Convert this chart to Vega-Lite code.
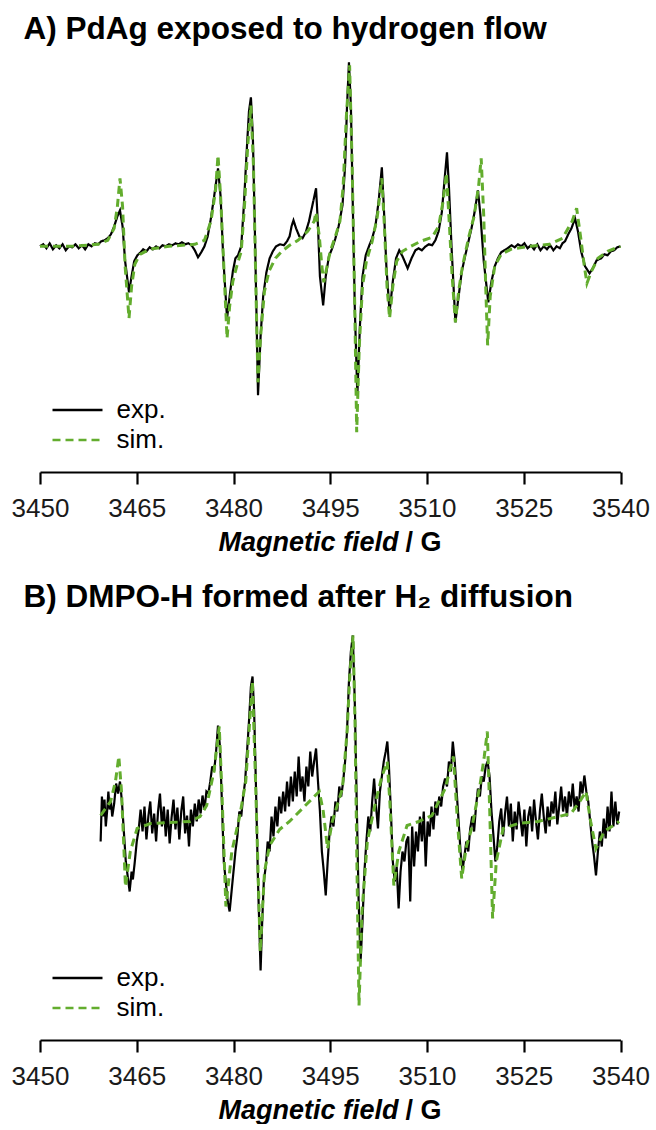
{
"$schema": "https://vega.github.io/schema/vega-lite/v6.json",
"background": "white",
"padding": {"left": 11, "top": 13, "right": 0, "bottom": 0},
"config": {"view": {"stroke": null}, "font": "Liberation Sans", "concat": {"spacing": 25}},
"resolve": {"scale": {"color": "independent", "strokeDash": "independent"}, "legend": {"color": "independent", "strokeDash": "independent"}},
"datasets": {
"aexp": [
{"B":3450.0,"I":0,"s":"exp."},{"B":3450.5,"I":2,"s":"exp."},{"B":3451.0,"I":-2,"s":"exp."},{"B":3451.5,"I":3,"s":"exp."},{"B":3452.0,"I":-3,"s":"exp."},{"B":3452.5,"I":1,"s":"exp."},{"B":3453.0,"I":-2,"s":"exp."},{"B":3453.5,"I":2,"s":"exp."},{"B":3454.0,"I":-4,"s":"exp."},{"B":3454.5,"I":0,"s":"exp."},{"B":3455.0,"I":-1,"s":"exp."},{"B":3455.5,"I":2,"s":"exp."},{"B":3456.0,"I":-2,"s":"exp."},{"B":3456.5,"I":1,"s":"exp."},{"B":3457.0,"I":-3,"s":"exp."},{"B":3457.5,"I":2,"s":"exp."},{"B":3458.0,"I":0,"s":"exp."},{"B":3458.5,"I":3,"s":"exp."},{"B":3459.0,"I":2,"s":"exp."},{"B":3459.5,"I":5,"s":"exp."},{"B":3460.0,"I":6,"s":"exp."},{"B":3460.5,"I":8,"s":"exp."},{"B":3461.0,"I":12,"s":"exp."},{"B":3461.5,"I":20,"s":"exp."},{"B":3462.0,"I":30,"s":"exp."},{"B":3462.4,"I":36,"s":"exp."},{"B":3462.8,"I":20,"s":"exp."},{"B":3463.2,"I":-15,"s":"exp."},{"B":3463.8,"I":-46,"s":"exp."},{"B":3464.2,"I":-30,"s":"exp."},{"B":3464.6,"I":-15,"s":"exp."},{"B":3465.1,"I":-9,"s":"exp."},{"B":3465.6,"I":-6,"s":"exp."},{"B":3466.0,"I":-3,"s":"exp."},{"B":3466.5,"I":-5,"s":"exp."},{"B":3467.0,"I":-1,"s":"exp."},{"B":3467.5,"I":-3,"s":"exp."},{"B":3468.0,"I":0,"s":"exp."},{"B":3468.5,"I":-2,"s":"exp."},{"B":3469.0,"I":1,"s":"exp."},{"B":3469.5,"I":0,"s":"exp."},{"B":3470.0,"I":2,"s":"exp."},{"B":3470.5,"I":1,"s":"exp."},{"B":3471.0,"I":3,"s":"exp."},{"B":3471.5,"I":2,"s":"exp."},{"B":3472.0,"I":4,"s":"exp."},{"B":3472.5,"I":2,"s":"exp."},{"B":3473.0,"I":3,"s":"exp."},{"B":3473.5,"I":1,"s":"exp."},{"B":3474.0,"I":-4,"s":"exp."},{"B":3474.5,"I":-11,"s":"exp."},{"B":3475.0,"I":-6,"s":"exp."},{"B":3475.5,"I":0,"s":"exp."},{"B":3476.0,"I":10,"s":"exp."},{"B":3476.5,"I":28,"s":"exp."},{"B":3477.0,"I":50,"s":"exp."},{"B":3477.6,"I":78,"s":"exp."},{"B":3478.0,"I":50,"s":"exp."},{"B":3478.4,"I":-10,"s":"exp."},{"B":3479.0,"I":-72,"s":"exp."},{"B":3479.4,"I":-50,"s":"exp."},{"B":3479.9,"I":-25,"s":"exp."},{"B":3480.3,"I":-12,"s":"exp."},{"B":3480.7,"I":-9,"s":"exp."},{"B":3481.2,"I":0,"s":"exp."},{"B":3481.6,"I":40,"s":"exp."},{"B":3482.0,"I":90,"s":"exp."},{"B":3482.4,"I":135,"s":"exp."},{"B":3482.7,"I":149,"s":"exp."},{"B":3483.0,"I":110,"s":"exp."},{"B":3483.3,"I":20,"s":"exp."},{"B":3483.6,"I":-80,"s":"exp."},{"B":3483.8,"I":-149,"s":"exp."},{"B":3484.2,"I":-90,"s":"exp."},{"B":3484.6,"I":-50,"s":"exp."},{"B":3485.1,"I":-26,"s":"exp."},{"B":3485.6,"I":-12,"s":"exp."},{"B":3486.1,"I":-5,"s":"exp."},{"B":3486.6,"I":0,"s":"exp."},{"B":3487.2,"I":2,"s":"exp."},{"B":3487.8,"I":1,"s":"exp."},{"B":3488.3,"I":5,"s":"exp."},{"B":3488.7,"I":10,"s":"exp."},{"B":3489.0,"I":20,"s":"exp."},{"B":3489.3,"I":26,"s":"exp."},{"B":3489.7,"I":18,"s":"exp."},{"B":3490.2,"I":10,"s":"exp."},{"B":3490.7,"I":8,"s":"exp."},{"B":3491.2,"I":14,"s":"exp."},{"B":3491.7,"I":25,"s":"exp."},{"B":3492.2,"I":40,"s":"exp."},{"B":3492.8,"I":58,"s":"exp."},{"B":3493.1,"I":20,"s":"exp."},{"B":3493.4,"I":-30,"s":"exp."},{"B":3493.9,"I":-59,"s":"exp."},{"B":3494.3,"I":-30,"s":"exp."},{"B":3494.8,"I":-10,"s":"exp."},{"B":3495.3,"I":-2,"s":"exp."},{"B":3495.8,"I":8,"s":"exp."},{"B":3496.3,"I":20,"s":"exp."},{"B":3496.9,"I":41,"s":"exp."},{"B":3497.3,"I":80,"s":"exp."},{"B":3497.6,"I":140,"s":"exp."},{"B":3497.9,"I":184,"s":"exp."},{"B":3498.2,"I":140,"s":"exp."},{"B":3498.5,"I":40,"s":"exp."},{"B":3498.8,"I":-60,"s":"exp."},{"B":3499.2,"I":-149,"s":"exp."},{"B":3499.6,"I":-80,"s":"exp."},{"B":3500.0,"I":-30,"s":"exp."},{"B":3500.5,"I":-9,"s":"exp."},{"B":3501.0,"I":0,"s":"exp."},{"B":3501.5,"I":8,"s":"exp."},{"B":3502.0,"I":20,"s":"exp."},{"B":3502.5,"I":45,"s":"exp."},{"B":3503.0,"I":79,"s":"exp."},{"B":3503.3,"I":40,"s":"exp."},{"B":3503.7,"I":-20,"s":"exp."},{"B":3504.2,"I":-66,"s":"exp."},{"B":3504.7,"I":-35,"s":"exp."},{"B":3505.2,"I":-12,"s":"exp."},{"B":3505.7,"I":-4,"s":"exp."},{"B":3506.2,"I":-10,"s":"exp."},{"B":3507.0,"I":-22,"s":"exp."},{"B":3507.6,"I":-12,"s":"exp."},{"B":3508.2,"I":-4,"s":"exp."},{"B":3508.7,"I":-2,"s":"exp."},{"B":3509.2,"I":-4,"s":"exp."},{"B":3509.8,"I":0,"s":"exp."},{"B":3510.3,"I":2,"s":"exp."},{"B":3510.8,"I":1,"s":"exp."},{"B":3511.3,"I":6,"s":"exp."},{"B":3511.8,"I":15,"s":"exp."},{"B":3512.3,"I":34,"s":"exp."},{"B":3512.7,"I":65,"s":"exp."},{"B":3513.1,"I":94,"s":"exp."},{"B":3513.4,"I":60,"s":"exp."},{"B":3513.8,"I":0,"s":"exp."},{"B":3514.4,"I":-76,"s":"exp."},{"B":3514.9,"I":-50,"s":"exp."},{"B":3515.4,"I":-25,"s":"exp."},{"B":3515.9,"I":-10,"s":"exp."},{"B":3516.4,"I":4,"s":"exp."},{"B":3516.9,"I":18,"s":"exp."},{"B":3517.4,"I":35,"s":"exp."},{"B":3517.9,"I":56,"s":"exp."},{"B":3518.3,"I":30,"s":"exp."},{"B":3518.8,"I":-15,"s":"exp."},{"B":3519.5,"I":-56,"s":"exp."},{"B":3520.0,"I":-35,"s":"exp."},{"B":3520.5,"I":-20,"s":"exp."},{"B":3521.0,"I":-12,"s":"exp."},{"B":3521.5,"I":-6,"s":"exp."},{"B":3522.0,"I":-4,"s":"exp."},{"B":3522.5,"I":-2,"s":"exp."},{"B":3523.1,"I":1,"s":"exp."},{"B":3523.6,"I":-1,"s":"exp."},{"B":3524.1,"I":2,"s":"exp."},{"B":3524.6,"I":0,"s":"exp."},{"B":3525.1,"I":3,"s":"exp."},{"B":3525.6,"I":-2,"s":"exp."},{"B":3526.1,"I":1,"s":"exp."},{"B":3526.6,"I":-3,"s":"exp."},{"B":3527.1,"I":2,"s":"exp."},{"B":3527.6,"I":-4,"s":"exp."},{"B":3528.1,"I":0,"s":"exp."},{"B":3528.6,"I":-3,"s":"exp."},{"B":3529.1,"I":1,"s":"exp."},{"B":3529.6,"I":-4,"s":"exp."},{"B":3530.1,"I":0,"s":"exp."},{"B":3530.6,"I":-2,"s":"exp."},{"B":3531.0,"I":3,"s":"exp."},{"B":3531.4,"I":5,"s":"exp."},{"B":3531.9,"I":12,"s":"exp."},{"B":3532.4,"I":18,"s":"exp."},{"B":3532.95,"I":28,"s":"exp."},{"B":3533.4,"I":15,"s":"exp."},{"B":3533.9,"I":-5,"s":"exp."},{"B":3534.5,"I":-20,"s":"exp."},{"B":3535.2,"I":-27,"s":"exp."},{"B":3535.7,"I":-22,"s":"exp."},{"B":3536.3,"I":-14,"s":"exp."},{"B":3537.0,"I":-12,"s":"exp."},{"B":3537.5,"I":-8,"s":"exp."},{"B":3538.0,"I":-9,"s":"exp."},{"B":3538.5,"I":-5,"s":"exp."},{"B":3539.0,"I":-4,"s":"exp."},{"B":3539.5,"I":-1,"s":"exp."},{"B":3540.0,"I":0,"s":"exp."}
],
"asim": [
{"B":3450,"I":0,"s":"sim."},{"B":3455,"I":0,"s":"sim."},{"B":3459,"I":2,"s":"sim."},{"B":3460.5,"I":6,"s":"sim."},{"B":3461.5,"I":18,"s":"sim."},{"B":3462.0,"I":40,"s":"sim."},{"B":3462.4,"I":68,"s":"sim."},{"B":3462.8,"I":40,"s":"sim."},{"B":3463.2,"I":-20,"s":"sim."},{"B":3463.8,"I":-72,"s":"sim."},{"B":3464.2,"I":-40,"s":"sim."},{"B":3464.7,"I":-18,"s":"sim."},{"B":3465.5,"I":-8,"s":"sim."},{"B":3467,"I":-3,"s":"sim."},{"B":3470,"I":0,"s":"sim."},{"B":3474,"I":2,"s":"sim."},{"B":3475.5,"I":6,"s":"sim."},{"B":3476.5,"I":25,"s":"sim."},{"B":3477.2,"I":55,"s":"sim."},{"B":3477.6,"I":91,"s":"sim."},{"B":3478.0,"I":50,"s":"sim."},{"B":3478.5,"I":-20,"s":"sim."},{"B":3479.0,"I":-92,"s":"sim."},{"B":3479.4,"I":-60,"s":"sim."},{"B":3479.9,"I":-35,"s":"sim."},{"B":3480.5,"I":-20,"s":"sim."},{"B":3481.2,"I":-5,"s":"sim."},{"B":3481.7,"I":40,"s":"sim."},{"B":3482.2,"I":100,"s":"sim."},{"B":3482.7,"I":141,"s":"sim."},{"B":3483.1,"I":80,"s":"sim."},{"B":3483.5,"I":-50,"s":"sim."},{"B":3483.8,"I":-136,"s":"sim."},{"B":3484.2,"I":-90,"s":"sim."},{"B":3484.8,"I":-45,"s":"sim."},{"B":3485.5,"I":-25,"s":"sim."},{"B":3486.5,"I":-12,"s":"sim."},{"B":3487.5,"I":-5,"s":"sim."},{"B":3488.7,"I":1,"s":"sim."},{"B":3490,"I":6,"s":"sim."},{"B":3491.5,"I":15,"s":"sim."},{"B":3492.5,"I":25,"s":"sim."},{"B":3492.8,"I":34,"s":"sim."},{"B":3493.3,"I":10,"s":"sim."},{"B":3493.7,"I":-20,"s":"sim."},{"B":3494.0,"I":-36,"s":"sim."},{"B":3494.5,"I":-20,"s":"sim."},{"B":3495,"I":-5,"s":"sim."},{"B":3495.8,"I":10,"s":"sim."},{"B":3496.5,"I":25,"s":"sim."},{"B":3497.0,"I":60,"s":"sim."},{"B":3497.5,"I":130,"s":"sim."},{"B":3498.0,"I":181,"s":"sim."},{"B":3498.4,"I":80,"s":"sim."},{"B":3498.8,"I":-60,"s":"sim."},{"B":3499.1,"I":-186,"s":"sim."},{"B":3499.5,"I":-100,"s":"sim."},{"B":3500.0,"I":-40,"s":"sim."},{"B":3500.6,"I":-15,"s":"sim."},{"B":3501.5,"I":5,"s":"sim."},{"B":3502.3,"I":30,"s":"sim."},{"B":3503.0,"I":68,"s":"sim."},{"B":3503.4,"I":20,"s":"sim."},{"B":3503.8,"I":-40,"s":"sim."},{"B":3504.2,"I":-72,"s":"sim."},{"B":3504.7,"I":-40,"s":"sim."},{"B":3505.3,"I":-15,"s":"sim."},{"B":3506.2,"I":-5,"s":"sim."},{"B":3507.5,"I":0,"s":"sim."},{"B":3509,"I":5,"s":"sim."},{"B":3510.8,"I":9,"s":"sim."},{"B":3511.8,"I":20,"s":"sim."},{"B":3512.5,"I":45,"s":"sim."},{"B":3513.0,"I":73,"s":"sim."},{"B":3513.4,"I":30,"s":"sim."},{"B":3513.9,"I":-30,"s":"sim."},{"B":3514.4,"I":-76,"s":"sim."},{"B":3514.9,"I":-45,"s":"sim."},{"B":3515.5,"I":-20,"s":"sim."},{"B":3516.5,"I":10,"s":"sim."},{"B":3517.3,"I":30,"s":"sim."},{"B":3518.0,"I":60,"s":"sim."},{"B":3518.4,"I":88,"s":"sim."},{"B":3518.8,"I":30,"s":"sim."},{"B":3519.1,"I":-40,"s":"sim."},{"B":3519.4,"I":-99,"s":"sim."},{"B":3519.8,"I":-50,"s":"sim."},{"B":3520.5,"I":-20,"s":"sim."},{"B":3521.5,"I":-8,"s":"sim."},{"B":3523,"I":-3,"s":"sim."},{"B":3526,"I":0,"s":"sim."},{"B":3529,"I":2,"s":"sim."},{"B":3531,"I":8,"s":"sim."},{"B":3532.5,"I":25,"s":"sim."},{"B":3533.2,"I":38,"s":"sim."},{"B":3533.8,"I":10,"s":"sim."},{"B":3534.4,"I":-20,"s":"sim."},{"B":3534.8,"I":-37,"s":"sim."},{"B":3535.5,"I":-25,"s":"sim."},{"B":3536.5,"I":-12,"s":"sim."},{"B":3538,"I":-5,"s":"sim."},{"B":3540,"I":0,"s":"sim."}
],
"bexp": [
{"B":3459.4,"I":-20,"s":"exp."},{"B":3459.6,"I":25,"s":"exp."},{"B":3459.8,"I":5,"s":"exp."},{"B":3460.0,"I":22,"s":"exp."},{"B":3460.2,"I":-5,"s":"exp."},{"B":3460.4,"I":10,"s":"exp."},{"B":3460.6,"I":30,"s":"exp."},{"B":3460.8,"I":12,"s":"exp."},{"B":3461.0,"I":20,"s":"exp."},{"B":3461.2,"I":5,"s":"exp."},{"B":3461.5,"I":18,"s":"exp."},{"B":3461.8,"I":38,"s":"exp."},{"B":3462.1,"I":28,"s":"exp."},{"B":3462.4,"I":40,"s":"exp."},{"B":3462.7,"I":20,"s":"exp."},{"B":3463.0,"I":-10,"s":"exp."},{"B":3463.3,"I":-40,"s":"exp."},{"B":3463.6,"I":-55,"s":"exp."},{"B":3463.9,"I":-70,"s":"exp."},{"B":3464.2,"I":-50,"s":"exp."},{"B":3464.4,"I":-58,"s":"exp."},{"B":3464.7,"I":-40,"s":"exp."},{"B":3465.0,"I":-20,"s":"exp."},{"B":3465.3,"I":-8,"s":"exp."},{"B":3465.6,"I":12,"s":"exp."},{"B":3465.9,"I":-10,"s":"exp."},{"B":3466.2,"I":15,"s":"exp."},{"B":3466.5,"I":-18,"s":"exp."},{"B":3466.8,"I":5,"s":"exp."},{"B":3467.1,"I":20,"s":"exp."},{"B":3467.4,"I":-12,"s":"exp."},{"B":3467.7,"I":8,"s":"exp."},{"B":3468.0,"I":-20,"s":"exp."},{"B":3468.3,"I":10,"s":"exp."},{"B":3468.6,"I":28,"s":"exp."},{"B":3468.9,"I":-5,"s":"exp."},{"B":3469.2,"I":15,"s":"exp."},{"B":3469.5,"I":-15,"s":"exp."},{"B":3469.8,"I":12,"s":"exp."},{"B":3470.1,"I":-22,"s":"exp."},{"B":3470.4,"I":4,"s":"exp."},{"B":3470.7,"I":22,"s":"exp."},{"B":3471.0,"I":-8,"s":"exp."},{"B":3471.3,"I":14,"s":"exp."},{"B":3471.6,"I":-18,"s":"exp."},{"B":3471.9,"I":10,"s":"exp."},{"B":3472.2,"I":25,"s":"exp."},{"B":3472.5,"I":-12,"s":"exp."},{"B":3472.8,"I":6,"s":"exp."},{"B":3473.1,"I":-25,"s":"exp."},{"B":3473.4,"I":12,"s":"exp."},{"B":3473.7,"I":-5,"s":"exp."},{"B":3474.0,"I":18,"s":"exp."},{"B":3474.3,"I":0,"s":"exp."},{"B":3474.6,"I":22,"s":"exp."},{"B":3474.9,"I":8,"s":"exp."},{"B":3475.2,"I":26,"s":"exp."},{"B":3475.5,"I":12,"s":"exp."},{"B":3475.8,"I":30,"s":"exp."},{"B":3476.1,"I":28,"s":"exp."},{"B":3476.4,"I":40,"s":"exp."},{"B":3476.7,"I":55,"s":"exp."},{"B":3477.0,"I":50,"s":"exp."},{"B":3477.3,"I":70,"s":"exp."},{"B":3477.6,"I":96,"s":"exp."},{"B":3477.9,"I":75,"s":"exp."},{"B":3478.2,"I":20,"s":"exp."},{"B":3478.5,"I":-40,"s":"exp."},{"B":3478.8,"I":-60,"s":"exp."},{"B":3479.1,"I":-80,"s":"exp."},{"B":3479.4,"I":-90,"s":"exp."},{"B":3479.7,"I":-70,"s":"exp."},{"B":3480.0,"I":-50,"s":"exp."},{"B":3480.3,"I":-30,"s":"exp."},{"B":3480.6,"I":-15,"s":"exp."},{"B":3480.9,"I":10,"s":"exp."},{"B":3481.2,"I":5,"s":"exp."},{"B":3481.5,"I":25,"s":"exp."},{"B":3481.8,"I":40,"s":"exp."},{"B":3482.1,"I":70,"s":"exp."},{"B":3482.4,"I":100,"s":"exp."},{"B":3482.7,"I":135,"s":"exp."},{"B":3482.95,"I":145,"s":"exp."},{"B":3483.2,"I":110,"s":"exp."},{"B":3483.5,"I":30,"s":"exp."},{"B":3483.8,"I":-60,"s":"exp."},{"B":3484.2,"I":-149,"s":"exp."},{"B":3484.45,"I":-100,"s":"exp."},{"B":3484.7,"I":-60,"s":"exp."},{"B":3485.0,"I":-45,"s":"exp."},{"B":3485.3,"I":-20,"s":"exp."},{"B":3485.6,"I":-30,"s":"exp."},{"B":3485.9,"I":5,"s":"exp."},{"B":3486.2,"I":-15,"s":"exp."},{"B":3486.5,"I":15,"s":"exp."},{"B":3486.8,"I":-5,"s":"exp."},{"B":3487.1,"I":25,"s":"exp."},{"B":3487.4,"I":8,"s":"exp."},{"B":3487.7,"I":30,"s":"exp."},{"B":3488.0,"I":10,"s":"exp."},{"B":3488.3,"I":40,"s":"exp."},{"B":3488.6,"I":15,"s":"exp."},{"B":3488.9,"I":45,"s":"exp."},{"B":3489.2,"I":20,"s":"exp."},{"B":3489.5,"I":50,"s":"exp."},{"B":3489.8,"I":25,"s":"exp."},{"B":3490.1,"I":65,"s":"exp."},{"B":3490.4,"I":30,"s":"exp."},{"B":3490.7,"I":45,"s":"exp."},{"B":3491.0,"I":20,"s":"exp."},{"B":3491.3,"I":55,"s":"exp."},{"B":3491.6,"I":35,"s":"exp."},{"B":3491.9,"I":70,"s":"exp."},{"B":3492.2,"I":45,"s":"exp."},{"B":3492.5,"I":60,"s":"exp."},{"B":3492.8,"I":73,"s":"exp."},{"B":3493.1,"I":40,"s":"exp."},{"B":3493.4,"I":10,"s":"exp."},{"B":3493.7,"I":-30,"s":"exp."},{"B":3494.0,"I":-50,"s":"exp."},{"B":3494.3,"I":-74,"s":"exp."},{"B":3494.6,"I":-40,"s":"exp."},{"B":3494.9,"I":-10,"s":"exp."},{"B":3495.2,"I":5,"s":"exp."},{"B":3495.5,"I":-5,"s":"exp."},{"B":3495.8,"I":20,"s":"exp."},{"B":3496.1,"I":10,"s":"exp."},{"B":3496.4,"I":35,"s":"exp."},{"B":3496.7,"I":25,"s":"exp."},{"B":3497.0,"I":40,"s":"exp."},{"B":3497.3,"I":60,"s":"exp."},{"B":3497.6,"I":90,"s":"exp."},{"B":3497.9,"I":140,"s":"exp."},{"B":3498.2,"I":170,"s":"exp."},{"B":3498.5,"I":186,"s":"exp."},{"B":3498.8,"I":120,"s":"exp."},{"B":3499.1,"I":20,"s":"exp."},{"B":3499.4,"I":-80,"s":"exp."},{"B":3499.7,"I":-140,"s":"exp."},{"B":3500.0,"I":-100,"s":"exp."},{"B":3500.3,"I":-50,"s":"exp."},{"B":3500.6,"I":-20,"s":"exp."},{"B":3500.9,"I":5,"s":"exp."},{"B":3501.2,"I":-10,"s":"exp."},{"B":3501.5,"I":20,"s":"exp."},{"B":3501.8,"I":43,"s":"exp."},{"B":3502.1,"I":15,"s":"exp."},{"B":3502.4,"I":-7,"s":"exp."},{"B":3502.7,"I":30,"s":"exp."},{"B":3503.0,"I":45,"s":"exp."},{"B":3503.3,"I":60,"s":"exp."},{"B":3503.6,"I":70,"s":"exp."},{"B":3503.85,"I":80,"s":"exp."},{"B":3504.1,"I":55,"s":"exp."},{"B":3504.4,"I":10,"s":"exp."},{"B":3504.7,"I":-40,"s":"exp."},{"B":3505.0,"I":-60,"s":"exp."},{"B":3505.3,"I":-45,"s":"exp."},{"B":3505.6,"I":-87,"s":"exp."},{"B":3505.9,"I":-50,"s":"exp."},{"B":3506.2,"I":-30,"s":"exp."},{"B":3506.5,"I":-40,"s":"exp."},{"B":3506.8,"I":-20,"s":"exp."},{"B":3507.1,"I":-15,"s":"exp."},{"B":3507.4,"I":-80,"s":"exp."},{"B":3507.7,"I":-5,"s":"exp."},{"B":3508.0,"I":-45,"s":"exp."},{"B":3508.3,"I":-10,"s":"exp."},{"B":3508.6,"I":-30,"s":"exp."},{"B":3508.9,"I":5,"s":"exp."},{"B":3509.2,"I":-20,"s":"exp."},{"B":3509.5,"I":10,"s":"exp."},{"B":3509.8,"I":-45,"s":"exp."},{"B":3510.1,"I":0,"s":"exp."},{"B":3510.4,"I":-15,"s":"exp."},{"B":3510.7,"I":15,"s":"exp."},{"B":3511.0,"I":-8,"s":"exp."},{"B":3511.3,"I":20,"s":"exp."},{"B":3511.6,"I":6,"s":"exp."},{"B":3511.9,"I":25,"s":"exp."},{"B":3512.2,"I":15,"s":"exp."},{"B":3512.5,"I":35,"s":"exp."},{"B":3512.8,"I":43,"s":"exp."},{"B":3513.1,"I":35,"s":"exp."},{"B":3513.4,"I":60,"s":"exp."},{"B":3513.7,"I":50,"s":"exp."},{"B":3514.0,"I":80,"s":"exp."},{"B":3514.3,"I":60,"s":"exp."},{"B":3514.6,"I":30,"s":"exp."},{"B":3514.9,"I":0,"s":"exp."},{"B":3515.2,"I":-30,"s":"exp."},{"B":3515.5,"I":-49,"s":"exp."},{"B":3515.8,"I":-35,"s":"exp."},{"B":3516.1,"I":-20,"s":"exp."},{"B":3516.4,"I":-30,"s":"exp."},{"B":3516.7,"I":-7,"s":"exp."},{"B":3517.0,"I":5,"s":"exp."},{"B":3517.3,"I":-10,"s":"exp."},{"B":3517.6,"I":15,"s":"exp."},{"B":3517.9,"I":33,"s":"exp."},{"B":3518.2,"I":25,"s":"exp."},{"B":3518.5,"I":45,"s":"exp."},{"B":3518.8,"I":40,"s":"exp."},{"B":3519.1,"I":55,"s":"exp."},{"B":3519.4,"I":60,"s":"exp."},{"B":3519.7,"I":45,"s":"exp."},{"B":3520.0,"I":10,"s":"exp."},{"B":3520.3,"I":-14,"s":"exp."},{"B":3520.6,"I":-40,"s":"exp."},{"B":3520.9,"I":-25,"s":"exp."},{"B":3521.2,"I":0,"s":"exp."},{"B":3521.5,"I":13,"s":"exp."},{"B":3521.8,"I":-15,"s":"exp."},{"B":3522.1,"I":8,"s":"exp."},{"B":3522.4,"I":25,"s":"exp."},{"B":3522.7,"I":-5,"s":"exp."},{"B":3523.0,"I":18,"s":"exp."},{"B":3523.3,"I":-20,"s":"exp."},{"B":3523.6,"I":10,"s":"exp."},{"B":3523.9,"I":-8,"s":"exp."},{"B":3524.2,"I":20,"s":"exp."},{"B":3524.5,"I":2,"s":"exp."},{"B":3524.8,"I":-15,"s":"exp."},{"B":3525.1,"I":12,"s":"exp."},{"B":3525.4,"I":-25,"s":"exp."},{"B":3525.7,"I":5,"s":"exp."},{"B":3526.0,"I":15,"s":"exp."},{"B":3526.3,"I":-10,"s":"exp."},{"B":3526.6,"I":22,"s":"exp."},{"B":3526.9,"I":0,"s":"exp."},{"B":3527.2,"I":-18,"s":"exp."},{"B":3527.5,"I":10,"s":"exp."},{"B":3527.8,"I":28,"s":"exp."},{"B":3528.1,"I":5,"s":"exp."},{"B":3528.4,"I":-12,"s":"exp."},{"B":3528.7,"I":15,"s":"exp."},{"B":3529.0,"I":-5,"s":"exp."},{"B":3529.3,"I":20,"s":"exp."},{"B":3529.6,"I":8,"s":"exp."},{"B":3529.9,"I":30,"s":"exp."},{"B":3530.2,"I":-3,"s":"exp."},{"B":3530.5,"I":15,"s":"exp."},{"B":3530.8,"I":35,"s":"exp."},{"B":3531.1,"I":10,"s":"exp."},{"B":3531.4,"I":25,"s":"exp."},{"B":3531.7,"I":5,"s":"exp."},{"B":3532.0,"I":30,"s":"exp."},{"B":3532.3,"I":15,"s":"exp."},{"B":3532.6,"I":38,"s":"exp."},{"B":3532.9,"I":12,"s":"exp."},{"B":3533.2,"I":25,"s":"exp."},{"B":3533.5,"I":10,"s":"exp."},{"B":3533.8,"I":40,"s":"exp."},{"B":3534.1,"I":28,"s":"exp."},{"B":3534.4,"I":46,"s":"exp."},{"B":3534.7,"I":30,"s":"exp."},{"B":3535.0,"I":20,"s":"exp."},{"B":3535.3,"I":0,"s":"exp."},{"B":3535.6,"I":-20,"s":"exp."},{"B":3535.9,"I":-35,"s":"exp."},{"B":3536.2,"I":-54,"s":"exp."},{"B":3536.5,"I":-30,"s":"exp."},{"B":3536.8,"I":-10,"s":"exp."},{"B":3537.1,"I":-25,"s":"exp."},{"B":3537.4,"I":3,"s":"exp."},{"B":3537.7,"I":-17,"s":"exp."},{"B":3538.0,"I":15,"s":"exp."},{"B":3538.3,"I":-10,"s":"exp."},{"B":3538.6,"I":30,"s":"exp."},{"B":3538.9,"I":-5,"s":"exp."},{"B":3539.2,"I":20,"s":"exp."},{"B":3539.5,"I":-3,"s":"exp."},{"B":3539.8,"I":10,"s":"exp."}
],
"bsim": [
{"B":3459.4,"I":6,"s":"sim."},{"B":3460.94,"I":20,"s":"sim."},{"B":3461.7,"I":40,"s":"sim."},{"B":3462.22,"I":65,"s":"sim."},{"B":3462.64,"I":30,"s":"sim."},{"B":3463.25,"I":-65,"s":"sim."},{"B":3464.0,"I":-30,"s":"sim."},{"B":3465.06,"I":-7,"s":"sim."},{"B":3467.1,"I":-2,"s":"sim."},{"B":3473.27,"I":0,"s":"sim."},{"B":3474.81,"I":5,"s":"sim."},{"B":3475.84,"I":16,"s":"sim."},{"B":3476.97,"I":50,"s":"sim."},{"B":3477.79,"I":95,"s":"sim."},{"B":3478.2,"I":30,"s":"sim."},{"B":3478.82,"I":-85,"s":"sim."},{"B":3479.74,"I":-30,"s":"sim."},{"B":3480.98,"I":6,"s":"sim."},{"B":3481.9,"I":40,"s":"sim."},{"B":3482.51,"I":100,"s":"sim."},{"B":3482.93,"I":140,"s":"sim."},{"B":3483.42,"I":40,"s":"sim."},{"B":3484.15,"I":-130,"s":"sim."},{"B":3484.81,"I":-50,"s":"sim."},{"B":3485.6,"I":-24,"s":"sim."},{"B":3487.14,"I":-8,"s":"sim."},{"B":3488.68,"I":0,"s":"sim."},{"B":3490.99,"I":15,"s":"sim."},{"B":3493.3,"I":30,"s":"sim."},{"B":3493.92,"I":10,"s":"sim."},{"B":3494.58,"I":-27,"s":"sim."},{"B":3495.31,"I":0,"s":"sim."},{"B":3496.89,"I":33,"s":"sim."},{"B":3497.61,"I":90,"s":"sim."},{"B":3498.07,"I":150,"s":"sim."},{"B":3498.54,"I":186,"s":"sim."},{"B":3498.84,"I":100,"s":"sim."},{"B":3499.15,"I":-50,"s":"sim."},{"B":3499.46,"I":-184,"s":"sim."},{"B":3499.92,"I":-90,"s":"sim."},{"B":3500.75,"I":-20,"s":"sim."},{"B":3502.04,"I":20,"s":"sim."},{"B":3503.01,"I":45,"s":"sim."},{"B":3503.83,"I":60,"s":"sim."},{"B":3504.24,"I":20,"s":"sim."},{"B":3504.86,"I":-64,"s":"sim."},{"B":3505.63,"I":-30,"s":"sim."},{"B":3506.91,"I":-4,"s":"sim."},{"B":3508.71,"I":0,"s":"sim."},{"B":3510.76,"I":6,"s":"sim."},{"B":3512.82,"I":33,"s":"sim."},{"B":3513.48,"I":50,"s":"sim."},{"B":3514.1,"I":65,"s":"sim."},{"B":3514.72,"I":0,"s":"sim."},{"B":3515.38,"I":-57,"s":"sim."},{"B":3516.1,"I":-25,"s":"sim."},{"B":3516.92,"I":-7,"s":"sim."},{"B":3518.21,"I":36,"s":"sim."},{"B":3518.88,"I":65,"s":"sim."},{"B":3519.35,"I":90,"s":"sim."},{"B":3519.73,"I":10,"s":"sim."},{"B":3520.17,"I":-97,"s":"sim."},{"B":3520.74,"I":-40,"s":"sim."},{"B":3521.81,"I":-7,"s":"sim."},{"B":3524.13,"I":-2,"s":"sim."},{"B":3527.21,"I":0,"s":"sim."},{"B":3532.34,"I":8,"s":"sim."},{"B":3533.68,"I":20,"s":"sim."},{"B":3534.65,"I":30,"s":"sim."},{"B":3535.37,"I":0,"s":"sim."},{"B":3536.19,"I":-27,"s":"sim."},{"B":3537.48,"I":-10,"s":"sim."},{"B":3539.8,"I":0,"s":"sim."}
]
},
"vconcat": [
{
"title": {"text": "A) PdAg exposed to hydrogen flow", "anchor": "start", "frame": "group", "dx": -16.5, "fontSize": 31.5, "fontWeight": "bold", "font": "Liberation Sans", "color": "black", "offset": 12},
"width": 580.5, "height": 415,
"resolve": {"axis": {"x": "independent"}},
"layer": [
{"data": {"name": "aexp"}, "mark": {"type": "line", "strokeWidth": 2.2},
"encoding": {
"x": {"field": "B", "type": "quantitative", "scale": {"domain": [3450, 3540], "nice": false, "zero": false},
"axis": {"orient": "bottom", "values": [3450, 3465, 3480, 3495, 3510, 3525, 3540], "format": "d", "labelFlush": false, "labelFont": "Liberation Sans", "labelFontSize": 26, "labelColor": "#1a1a1a", "labelPadding": 11, "tickSize": 12, "tickWidth": 2.2, "tickColor": "black", "domainColor": "black", "domainWidth": 2.2, "grid": false, "title": "Magnetic field", "titleFont": "Liberation Sans", "titleFontSize": 27, "titleFontWeight": "bold", "titleFontStyle": "italic", "titleColor": "black", "titleX": 358, "titleY": 78, "titleAlign": "right", "titleBaseline": "alphabetic"}},
"y": {"field": "I", "type": "quantitative", "scale": {"domain": [-225.7, 189.3], "nice": false, "zero": false}, "axis": null},
"color": {"field": "s", "type": "nominal", "scale": {"domain": ["exp.", "sim."], "range": ["#000000", "#63ad2e"]}, "legend": {"orient": "none", "legendX": 9.5, "legendY": 340, "title": null, "symbolType": "M-1,0H4", "symbolSize": 400, "symbolStrokeWidth": 2.6, "labelFont": "Liberation Sans", "labelFontSize": 26, "labelColor": "black", "labelOffset": 41, "rowPadding": 4}},
"strokeDash": {"field": "s", "type": "nominal", "scale": {"domain": ["exp.", "sim."], "range": [[1, 0], [8, 5]]}, "legend": {"orient": "none", "legendX": 9.5, "legendY": 340, "title": null, "symbolType": "M-1,0H4", "symbolSize": 400, "symbolStrokeWidth": 2.6, "labelFont": "Liberation Sans", "labelFontSize": 26, "labelColor": "black", "labelOffset": 41, "rowPadding": 4}}
}},
{"data": {"name": "asim"}, "mark": {"type": "line", "strokeWidth": 3},
"encoding": {
"x": {"field": "B", "type": "quantitative", "scale": {"domain": [3450, 3540], "nice": false, "zero": false},
"axis": {"orient": "top", "domain": false, "ticks": false, "labels": false, "grid": false, "title": "/ G", "titleFont": "Liberation Sans", "titleFontSize": 27, "titleFontWeight": "bold", "titleFontStyle": "normal", "titleColor": "black", "titleX": 365, "titleY": 493.3, "titleAlign": "left", "titleBaseline": "alphabetic"}},
"y": {"field": "I", "type": "quantitative", "scale": {"domain": [-225.7, 189.3], "nice": false, "zero": false}, "axis": null},
"color": {"field": "s", "type": "nominal", "scale": {"domain": ["exp.", "sim."], "range": ["#000000", "#63ad2e"]}},
"strokeDash": {"field": "s", "type": "nominal", "scale": {"domain": ["exp.", "sim."], "range": [[1, 0], [8, 5]]}}
}}
]
},
{
"title": {"text": "B) DMPO-H formed after H₂ diffusion", "anchor": "start", "frame": "group", "dx": -16.5, "fontSize": 31.5, "fontWeight": "bold", "font": "Liberation Sans", "color": "black", "offset": 12},
"width": 580.5, "height": 415,
"resolve": {"axis": {"x": "independent"}},
"layer": [
{"data": {"name": "bexp"}, "mark": {"type": "line", "strokeWidth": 2.2},
"encoding": {
"x": {"field": "B", "type": "quantitative", "scale": {"domain": [3450, 3540], "nice": false, "zero": false},
"axis": {"orient": "bottom", "values": [3450, 3465, 3480, 3495, 3510, 3525, 3540], "format": "d", "labelFlush": false, "labelFont": "Liberation Sans", "labelFontSize": 26, "labelColor": "#1a1a1a", "labelPadding": 11, "tickSize": 12, "tickWidth": 2.2, "tickColor": "black", "domainColor": "black", "domainWidth": 2.2, "grid": false, "title": "Magnetic field", "titleFont": "Liberation Sans", "titleFontSize": 27, "titleFontWeight": "bold", "titleFontStyle": "italic", "titleColor": "black", "titleX": 358, "titleY": 78, "titleAlign": "right", "titleBaseline": "alphabetic"}},
"y": {"field": "I", "type": "quantitative", "scale": {"domain": [-218.5, 196.5], "nice": false, "zero": false}, "axis": null},
"color": {"field": "s", "type": "nominal", "scale": {"domain": ["exp.", "sim."], "range": ["#000000", "#63ad2e"]}, "legend": {"orient": "none", "legendX": 9.5, "legendY": 340, "title": null, "symbolType": "M-1,0H4", "symbolSize": 400, "symbolStrokeWidth": 2.6, "labelFont": "Liberation Sans", "labelFontSize": 26, "labelColor": "black", "labelOffset": 41, "rowPadding": 4}},
"strokeDash": {"field": "s", "type": "nominal", "scale": {"domain": ["exp.", "sim."], "range": [[1, 0], [8, 5]]}, "legend": {"orient": "none", "legendX": 9.5, "legendY": 340, "title": null, "symbolType": "M-1,0H4", "symbolSize": 400, "symbolStrokeWidth": 2.6, "labelFont": "Liberation Sans", "labelFontSize": 26, "labelColor": "black", "labelOffset": 41, "rowPadding": 4}}
}},
{"data": {"name": "bsim"}, "mark": {"type": "line", "strokeWidth": 3},
"encoding": {
"x": {"field": "B", "type": "quantitative", "scale": {"domain": [3450, 3540], "nice": false, "zero": false},
"axis": {"orient": "top", "domain": false, "ticks": false, "labels": false, "grid": false, "title": "/ G", "titleFont": "Liberation Sans", "titleFontSize": 27, "titleFontWeight": "bold", "titleFontStyle": "normal", "titleColor": "black", "titleX": 365, "titleY": 493.3, "titleAlign": "left", "titleBaseline": "alphabetic"}},
"y": {"field": "I", "type": "quantitative", "scale": {"domain": [-218.5, 196.5], "nice": false, "zero": false}, "axis": null},
"color": {"field": "s", "type": "nominal", "scale": {"domain": ["exp.", "sim."], "range": ["#000000", "#63ad2e"]}},
"strokeDash": {"field": "s", "type": "nominal", "scale": {"domain": ["exp.", "sim."], "range": [[1, 0], [8, 5]]}}
}}
]
}
]
}
